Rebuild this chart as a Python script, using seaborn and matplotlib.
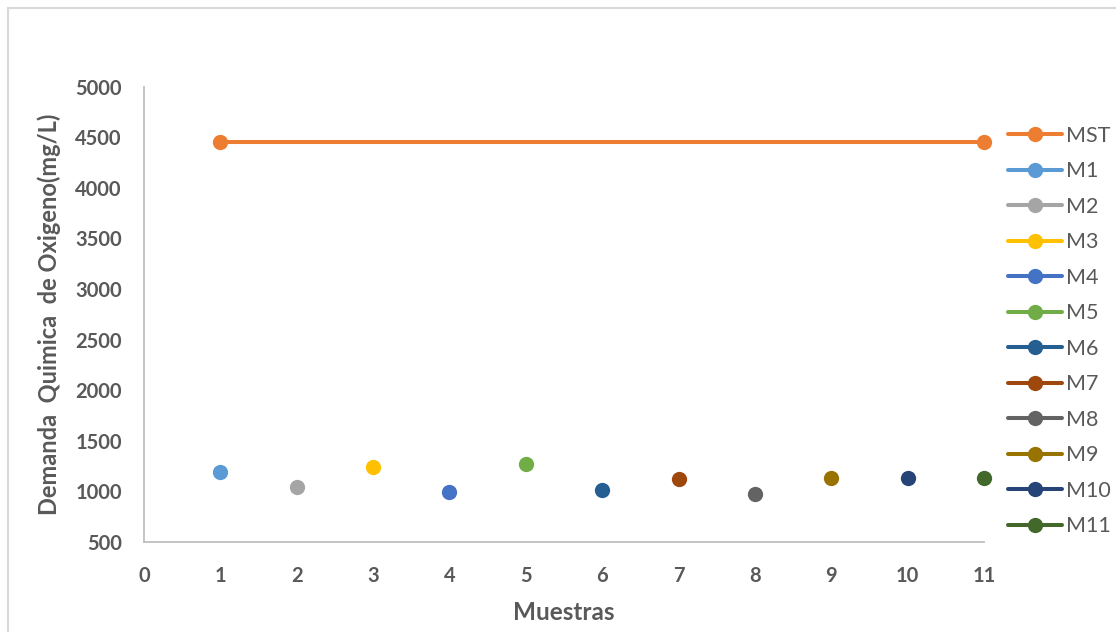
import matplotlib
matplotlib.use("Agg")
import matplotlib.pyplot as plt
from matplotlib.patches import Rectangle
import seaborn as sns
import pandas as pd

# Series names and their sample positions / COD values (mg/L)
series = ["MST", "M1", "M2", "M3", "M4", "M5", "M6", "M7", "M8", "M9", "M10", "M11"]
mst_x = [1, 11]
mst_y = [4450, 4450]
sample_x = [1, 2, 3, 4, 5, 6, 7, 8, 9, 10, 11]
sample_y = [1195, 1040, 1245, 995, 1270, 1010, 1120, 975, 1130, 1130, 1130]
colors = ["#ED7D31", "#5B9BD5", "#A5A5A5", "#FFC000", "#4472C4", "#70AD47",
          "#255E91", "#9E480E", "#636363", "#997300", "#264478", "#43682B"]
y_ticks = [500, 1000, 1500, 2000, 2500, 3000, 3500, 4000, 4500, 5000]
x_ticks = [0, 1, 2, 3, 4, 5, 6, 7, 8, 9, 10, 11]

rows = [{"serie": "MST", "x": x, "y": y} for x, y in zip(mst_x, mst_y)]
rows += [{"serie": s, "x": x, "y": y} for s, x, y in zip(series[1:], sample_x, sample_y)]
df = pd.DataFrame(rows)

sns.set_theme(style="white")
plt.rcParams["font.family"] = ["Lato", "DejaVu Sans"]
text_col = "#595959"

fig = plt.figure(figsize=(11.16, 6.32), dpi=100)
ax = fig.add_axes([144 / 1116, 1 - 542 / 632, (984 - 144) / 1116, (542 - 86.7) / 632])

sns.lineplot(data=df, x="x", y="y", hue="serie", hue_order=series,
             palette=dict(zip(series, colors)), marker="o", markersize=11,
             markeredgewidth=0, linewidth=2.9, ax=ax, legend=True)
for ln in ax.lines:
    ln.set_clip_on(False)

ax.set_xlim(0, 11)
ax.set_ylim(500, 5000)
ax.set_xticks(x_ticks)
ax.set_yticks(y_ticks)
ax.tick_params(axis="both", length=0, labelsize=14.5, labelcolor=text_col)
ax.tick_params(axis="x", pad=17)
ax.tick_params(axis="y", pad=16)
for lab in ax.get_xticklabels() + ax.get_yticklabels():
    lab.set_fontweight("bold")

for side in ["top", "right"]:
    ax.spines[side].set_visible(False)
for side in ["left", "bottom"]:
    ax.spines[side].set_color("#BFBFBF")
    ax.spines[side].set_linewidth(1.3)

ax.set_xlabel("Muestras", fontsize=17.5, fontweight="bold", color=text_col, labelpad=11)
ax.set_ylabel("Demanda  Quimica  de Oxigeno(mg/L)", fontsize=17, fontweight="bold",
              color=text_col, labelpad=10)

handles, labels = ax.get_legend_handles_labels()
ax.legend(handles, labels, loc="upper left", bbox_to_anchor=(1008 / 1116, 1 - 126 / 632),
          bbox_transform=fig.transFigure, frameon=False, fontsize=15.5,
          labelcolor=text_col, handlelength=2.5, handletextpad=0.2,
          labelspacing=0.72, borderaxespad=0, borderpad=0)

# outer chart frame
fig.patches.append(Rectangle((8 / 1116, -0.05), 1.2, 1 - 8 / 632 + 0.05,
                             transform=fig.transFigure, fill=False,
                             edgecolor="#D9D9D9", linewidth=1.5))

fig.savefig("out.png", dpi=100)
